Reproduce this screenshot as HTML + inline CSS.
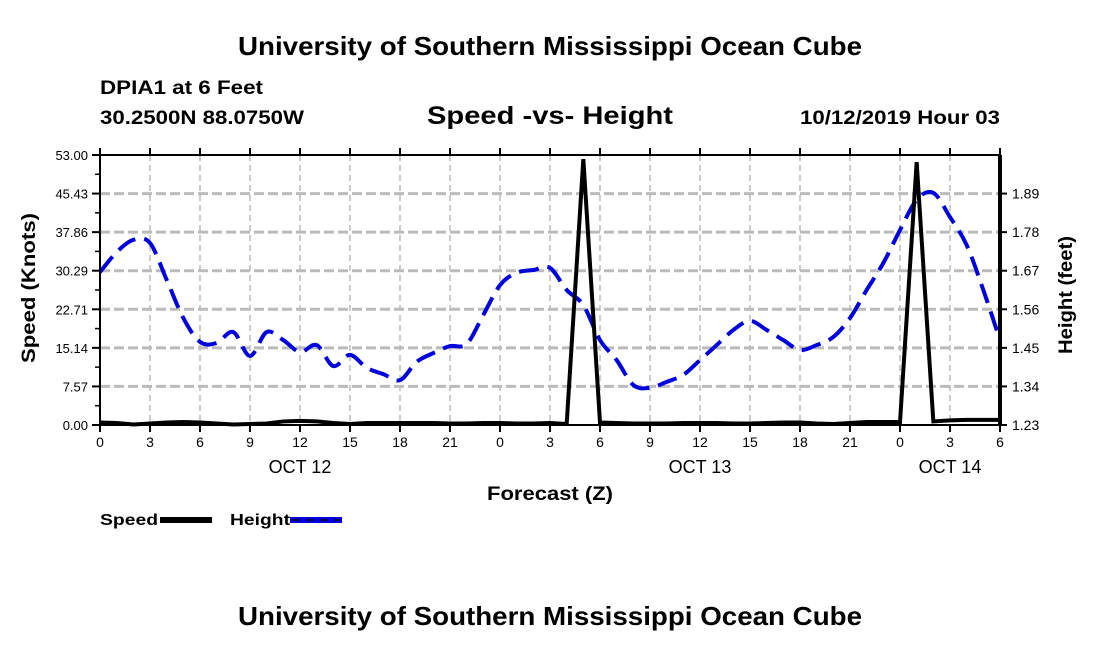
<!DOCTYPE html>
<html><head><meta charset="utf-8"><style>
body{margin:0;background:#fff;width:1100px;height:650px;overflow:hidden;font-family:"Liberation Sans",sans-serif}
</style></head><body>
<svg width="1100" height="650" xmlns="http://www.w3.org/2000/svg" font-family="Liberation Sans, sans-serif">
<text x="238" y="55" font-size="26" font-weight="bold" textLength="624" lengthAdjust="spacingAndGlyphs">University of Southern Mississippi Ocean Cube</text>
<text x="100" y="94" font-size="19" font-weight="bold" textLength="163" lengthAdjust="spacingAndGlyphs">DPIA1 at 6 Feet</text>
<text x="100" y="124" font-size="19" font-weight="bold" textLength="204" lengthAdjust="spacingAndGlyphs">30.2500N 88.0750W</text>
<text x="427" y="124" font-size="25" font-weight="bold" textLength="246" lengthAdjust="spacingAndGlyphs">Speed -vs- Height</text>
<text x="800" y="124" font-size="19" font-weight="bold" textLength="200" lengthAdjust="spacingAndGlyphs">10/12/2019 Hour 03</text>
<g id="grid"></g>
<g id="axes"></g>
<path id="hline" fill="none" stroke="#0000dd" stroke-width="4" stroke-dasharray="20,9"/>
<path id="sline" fill="none" stroke="#000" stroke-width="4" stroke-linejoin="miter"/>
<rect x="100" y="155" width="900" height="270" fill="none" stroke="#000" stroke-width="2"/>
<text x="487" y="500" font-size="19" font-weight="bold" textLength="126" lengthAdjust="spacingAndGlyphs">Forecast (Z)</text>
<text transform="translate(35,363) rotate(-90)" font-size="19" font-weight="bold" textLength="150" lengthAdjust="spacingAndGlyphs">Speed (Knots)</text>
<text transform="translate(1072,354) rotate(-90)" font-size="19" font-weight="bold" textLength="118" lengthAdjust="spacingAndGlyphs">Height (feet)</text>
<g><text x="100" y="525" font-size="16" font-weight="bold" textLength="58" lengthAdjust="spacingAndGlyphs">Speed</text><line x1="160" y1="520" x2="212" y2="520" stroke="#000" stroke-width="6"/></g>
<g><text x="230" y="525" font-size="16" font-weight="bold" textLength="60" lengthAdjust="spacingAndGlyphs">Height</text><line x1="290" y1="520" x2="342" y2="520" stroke="#0000dd" stroke-width="6"/><line x1="292" y1="520" x2="340" y2="520" stroke="#000055" stroke-width="2" stroke-dasharray="8,6"/></g>
<text x="238" y="625" font-size="26" font-weight="bold" textLength="624" lengthAdjust="spacingAndGlyphs">University of Southern Mississippi Ocean Cube</text>
</svg>
<script>
const hourLabels=["0","3","6","9","12","15","18","21","0","3","6","9","12","15","18","21","0","3","6"];
const dayLabels=["OCT 12","OCT 13","OCT 14"];
const dayHours=[12,36,51];
const speedTicks=["0.00","7.57","15.14","22.71","30.29","37.86","45.43","53.00"];
const heightTicks=["1.23","1.34","1.45","1.56","1.67","1.78","1.89"];
const speed=[0.5,0.4,0.1,0.3,0.5,0.6,0.5,0.3,0.1,0.2,0.3,0.7,0.8,0.7,0.4,0.2,0.4,0.4,0.4,0.4,0.4,0.3,0.3,0.4,0.4,0.3,0.3,0.4,0.2,52.2,0.5,0.4,0.3,0.3,0.3,0.4,0.4,0.4,0.3,0.3,0.4,0.5,0.5,0.3,0.2,0.4,0.6,0.6,0.6,51.6,0.7,0.9,1.0,1.0,1.0];
const height=[1.666,1.723,1.758,1.749,1.644,1.535,1.467,1.464,1.495,1.427,1.495,1.472,1.438,1.458,1.398,1.430,1.393,1.375,1.358,1.410,1.435,1.455,1.461,1.544,1.629,1.664,1.672,1.678,1.615,1.572,1.472,1.415,1.344,1.336,1.353,1.373,1.415,1.458,1.501,1.527,1.501,1.472,1.444,1.458,1.481,1.535,1.615,1.692,1.786,1.872,1.892,1.823,1.743,1.615,1.472];
const X=h=>100+h*900/54;
const YS=v=>425-v/53*270;
const YH=v=>425-(v-1.23)/0.77*270;
const NS="http://www.w3.org/2000/svg";
function mk(tag,attrs,parent,txt){const e=document.createElementNS(NS,tag);for(const k in attrs)e.setAttribute(k,attrs[k]);if(txt!==undefined)e.textContent=txt;parent.appendChild(e);return e;}
const grid=document.getElementById('grid'),axes=document.getElementById('axes');
hourLabels.forEach((l,i)=>{const x=X(i*3);
 if(i>0&&i<hourLabels.length-1){const g=mk('line',{x1:x,y1:155,x2:x,y2:425,stroke:'#bbb','stroke-width':1.5,'stroke-dasharray':'6,4'},grid);
 }
 mk('line',{x1:x,y1:425,x2:x,y2:432,stroke:'#000','stroke-width':2},axes);
 mk('line',{x1:x,y1:155,x2:x,y2:148,stroke:'#000','stroke-width':2},axes);
 const t=mk('text',{x:x,y:447,'text-anchor':'middle','font-size':14},axes,l);
 });
dayLabels.forEach((l,i)=>{const t=mk('text',{x:X(dayHours[i]),y:473,'text-anchor':'middle','font-size':18},axes,l);
 });
speedTicks.forEach((l,i)=>{const v=parseFloat(l),y=YS(v);
 if(i>0&&i<speedTicks.length-1){const g=mk('line',{x1:100,y1:y,x2:1000,y2:y,stroke:'#bbb','stroke-width':3,'stroke-dasharray':'10,4'},grid);
 }
 mk('line',{x1:92,y1:y,x2:100,y2:y,stroke:'#000','stroke-width':2},axes);
 if(i<speedTicks.length-1)mk('line',{x1:95,y1:y-19.3,x2:100,y2:y-19.3,stroke:'#000','stroke-width':1.5},axes);
 const t=mk('text',{x:88,y:y+5,'text-anchor':'end','font-size':13},axes,l);
 });
heightTicks.forEach((l,i)=>{const y=YH(parseFloat(l));
 mk('line',{x1:1000,y1:y,x2:1007,y2:y,stroke:'#000','stroke-width':2},axes);
 const t=mk('text',{x:1012,y:y+5,'font-size':14},axes,l);
 });
mk('line',{x1:1000,y1:155,x2:1000,y2:425,stroke:'#000','stroke-width':4},axes);
const P=height.map((v,i)=>[X(i),YH(v)]);
let d='M'+P[0][0]+','+P[0][1];
for(let i=0;i<P.length-1;i++){const p0=P[Math.max(0,i-1)],p1=P[i],p2=P[i+1],p3=P[Math.min(P.length-1,i+2)];
 d+=' C'+(p1[0]+(p2[0]-p0[0])/6)+','+(p1[1]+(p2[1]-p0[1])/6)+' '+(p2[0]-(p3[0]-p1[0])/6)+','+(p2[1]-(p3[1]-p1[1])/6)+' '+p2[0]+','+p2[1];}
document.getElementById('hline').setAttribute('d',d);
document.getElementById('sline').setAttribute('d',speed.map((v,i)=>(i?'L':'M')+X(i)+','+YS(v)).join(' '));
</script>
</body></html>
